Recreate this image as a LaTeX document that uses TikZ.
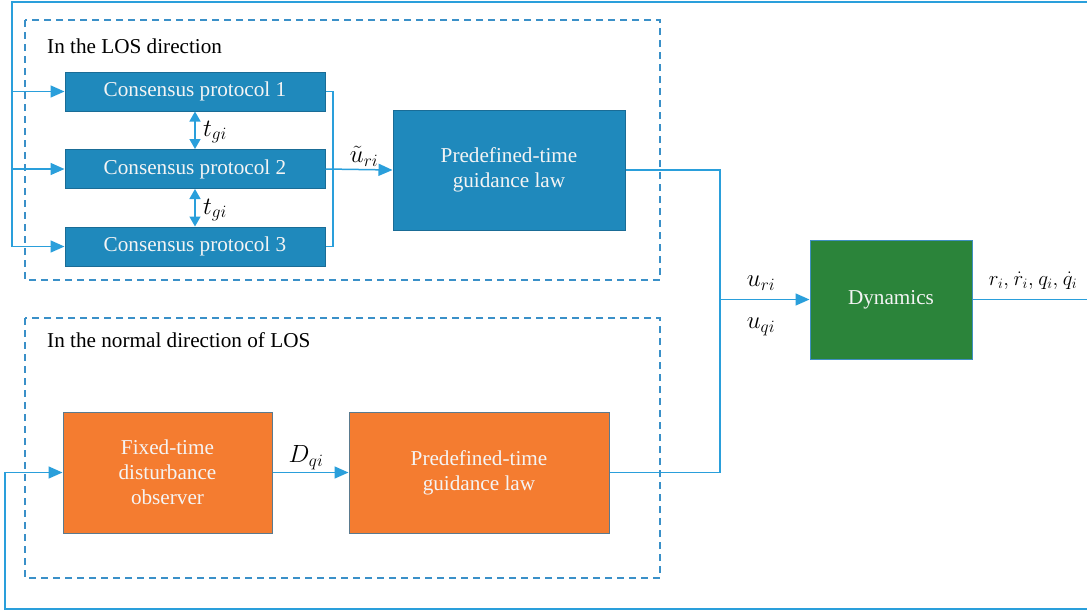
\documentclass[tikz,border=0pt]{standalone}
\usepackage{fontspec}
\setmainfont{Liberation Serif}
\usetikzlibrary{arrows.meta}
\definecolor{wire}{HTML}{2A9FDB}
\definecolor{frame}{HTML}{3A90C8}
\definecolor{blueblk}{HTML}{1F89BC}
\definecolor{blueedge}{HTML}{1A6C96}
\definecolor{orangeblk}{HTML}{F47C30}
\definecolor{orangeedge}{HTML}{5A7A8E}
\definecolor{greenblk}{HTML}{2B843A}
\definecolor{greenedge}{HTML}{3F8FC0}
\definecolor{boxtext}{HTML}{F4F4F4}
\tikzset{
  blk/.style={draw, line width=1pt, text=boxtext, align=center, inner sep=0pt,
              font=\fontsize{21.2}{25}\selectfont},
  bluebox/.style={blk, fill=blueblk, draw=blueedge},
  orangebox/.style={blk, fill=orangeblk, draw=orangeedge},
  greenbox/.style={blk, fill=greenblk, draw=greenedge},
  wireline/.style={draw=wire, line width=1.5pt},
  flow/.style={wireline, -{Triangle[length=14pt,width=12pt]}},
  twoway/.style={wireline, {Triangle[length=10pt,width=11pt]}-{Triangle[length=10pt,width=11pt]}},
  region/.style={draw=frame, line width=1.4pt, dash pattern=on 7pt off 5pt},
  lbl/.style={font=\fontsize{21.2}{25}\selectfont, inner sep=0pt},
  sig/.style={font=\fontsize{23}{27}\selectfont, inner sep=0pt},
}
\begin{document}
\begin{tikzpicture}[x=1pt,y=-1pt]
\useasboundingbox[fill=white] (0,0) rectangle (1087,614);

% grouping frames
\draw[region] (25,20) rectangle (660,280);
\draw[region] (25,318) rectangle (660,578);
\node[lbl, anchor=west] (losdir) at (47,46) {In the LOS direction};
\node[lbl, anchor=west] (normdir) at (47,340) {In the normal direction of LOS};

% blocks
\node[bluebox, minimum width=260pt, minimum height=39pt] (cp1) at (195,91.5) {Consensus protocol 1};
\node[bluebox, minimum width=260pt, minimum height=39pt] (cp2) at (195,169) {Consensus protocol 2};
\node[bluebox, minimum width=260pt, minimum height=39pt] (cp3) at (195,246.5) {Consensus protocol 3};
\node[bluebox, minimum width=232pt, minimum height=120pt] (pg1) at (509,170) {Predefined-time\\guidance law};
\node[greenbox, minimum width=162pt, minimum height=119pt] (dyn) at (891,299.5) {Dynamics};
\node[orangebox, minimum width=209pt, minimum height=121pt] (obs) at (167.5,472.5) {Fixed-time\\disturbance\\observer};
\node[orangebox, minimum width=260pt, minimum height=121pt] (pg2) at (479,472.5) {Predefined-time\\guidance law};

% routing points
\coordinate (outR) at (1088,299.5);
\coordinate (topR) at (1088,2);
\coordinate (topL) at (12,2);
\coordinate (botR) at (1088,609);
\coordinate (botL) at (5,609);
\coordinate (brk1) at (333,91.5);
\coordinate (brk3) at (333,246.5);
\coordinate (sumT) at (720,170);
\coordinate (sumB) at (720,472.5);
\coordinate (sumM) at (720,299.5);

% output and feedback to the LOS channel
\draw[wireline] (dyn.east) -- (outR) -- (topR) -- (topL) -- (topL |- cp3.west);
\draw[flow] (topL |- cp1.west) -- (cp1.west);
\draw[flow] (topL |- cp2.west) -- (cp2.west);
\draw[flow] (topL |- cp3.west) -- (cp3.west);

% feedback to the normal channel
\draw[flow] (outR) -- (botR) -- (botL) -- (botL |- obs.west) -- (obs.west);

% consensus outputs
\draw[wireline] (cp1.east) -- (brk1) -- (brk3) -- (cp3.east);
\draw[flow] (cp2.east) -- (pg1.west);
\draw[twoway] (cp1.south) -- (cp2.north);
\draw[twoway] (cp2.south) -- (cp3.north);

% guidance laws into dynamics
\draw[wireline] (pg1.east) -- (sumT) -- (sumB) -- (pg2.east);
\draw[flow] (sumM) -- (dyn.west);
\draw[flow] (obs.east) -- (pg2.west);

% signal labels
\node[sig] (tg1) at (215,132) {$t_{gi}$};
\node[sig] (tg2) at (215,210) {$t_{gi}$};
\node[sig] (ur1) at (364,156) {$\tilde{u}_{ri}$};
\node[sig] (dq) at (306,458) {$D_{qi}$};
\node[sig] (ur2) at (761,283) {$u_{ri}$};
\node[sig] (uq) at (761,327) {$u_{qi}$};
\node[font=\fontsize{20}{24}\selectfont, inner sep=0pt] (outs) at (1033,281)
  {$r_i,\!\:\dot{r}_i,\!\:q_i,\!\:\dot{q}_i$};
\end{tikzpicture}
\end{document}
